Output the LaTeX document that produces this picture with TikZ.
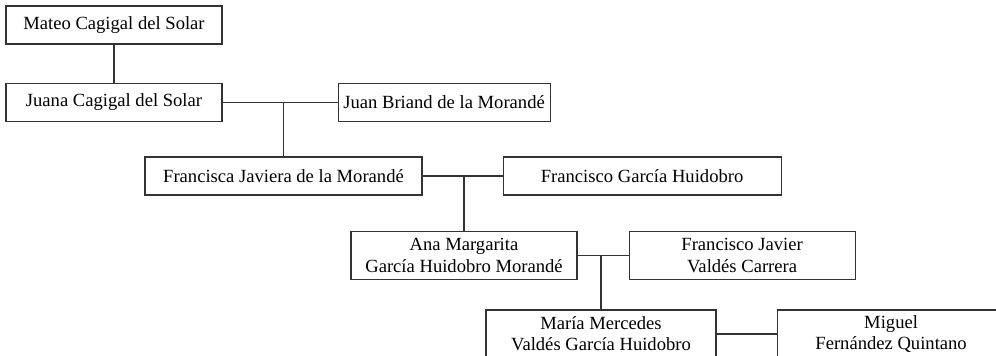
\documentclass[tikz,border=0pt]{standalone}
\usepackage{fontspec}
\setmainfont{Liberation Serif}
\usetikzlibrary{positioning}
\tikzset{
	person/.style={draw=black!80, line width=0.55pt, minimum height=19pt, inner sep=1pt,
		align=center, font=\fontsize{9.3}{10.6}\selectfont}, % one box per person
	tall/.style={minimum height=24pt}, % boxes with two lines of text
	link/.style={draw=black!80, line width=0.55pt}, % family lines
}

\begin{document}
\begin{tikzpicture}[x=0.5pt, y=0.5pt]
	\useasboundingbox (0,0) rectangle (996,-356);
	% first generation
	\node[person, minimum width=108pt] (Mateo) at (114,-25) {Mateo Cagigal del Solar};
	% his daughter and her husband
	\node[person, minimum width=108pt, below=19pt of Mateo] (Juana) {Juana Cagigal del Solar};
	\node[person, minimum width=106pt, right=57.5pt of Juana] (Juan) {Juan Briand de la Morandé};
	% next couple
	\node[person, minimum width=138.5pt] (Francisca) at (283.5,-176) {Francisca Javiera de la Morandé};
	\node[person, minimum width=139pt, right=40pt of Francisca] (FranciscoG) {Francisco García Huidobro};
	\node[person, tall, minimum width=113pt] (Ana) at (464,-255.5) {Ana Margarita\\García Huidobro Morandé};
	\node[person, tall, minimum width=113pt, right=25.5pt of Ana] (FranciscoJ) {Francisco Javier\\Valdés Carrera};
	%% last row, cut by the bottom edge
	\node[person, tall, minimum width=115pt] (Maria) at (601,-334) {María Mercedes\\Valdés García Huidobro};
	\node[person, tall, minimum width=114pt, right=30pt of Maria] (Miguel) {Miguel\\Fernández Quintano};

	% parent -> child
	\draw[link] (Mateo) -- (Juana);
	% marriages and their children
	\draw[link] (Juana) -- (Juan);
	\coordinate (m1) at (Francisca.north |- Juana.east);
	\draw[link] (m1) -- (Francisca);
	\draw[link] (Francisca) -- (FranciscoG);
	\coordinate (m2) at (Ana.north |- Francisca.east);
	\draw[link] (m2) -- (Ana);
	\draw[link] (Ana) -- (FranciscoJ);
	\coordinate (m3) at (Maria.north |- Ana.east);
	\draw[link] (m3) -- (Maria);
	\draw[link] (Maria) -- (Miguel);
\end{tikzpicture}
\end{document}
